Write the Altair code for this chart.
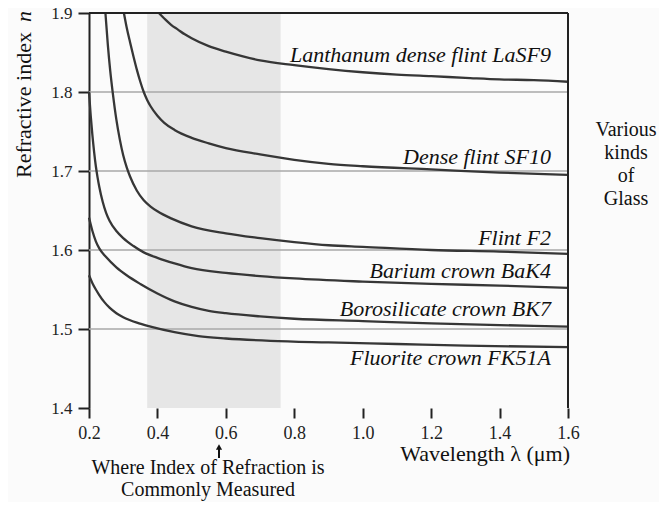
import altair as alt
import pandas as pd

# ---------------- data ----------------
glass_names = [
    "Lanthanum dense flint LaSF9",
    "Dense flint SF10",
    "Flint F2",
    "Barium crown BaK4",
    "Borosilicate crown BK7",
    "Fluorite crown FK51A",
]

lasf9_wl = [0.404, 0.42, 0.44, 0.46, 0.48, 0.50, 0.55, 0.60, 0.65, 0.70, 0.80, 0.90,
            1.00, 1.10, 1.20, 1.30, 1.40, 1.50, 1.60]
lasf9_n = [1.900, 1.893, 1.885, 1.879, 1.873, 1.868, 1.858, 1.851, 1.845, 1.840, 1.834, 1.829,
           1.825, 1.822, 1.820, 1.818, 1.816, 1.815, 1.813]

sf10_wl = [0.302, 0.31, 0.32, 0.33, 0.34, 0.35, 0.36, 0.37, 0.38, 0.40, 0.42, 0.45, 0.50,
           0.55, 0.60, 0.70, 0.80, 0.90, 1.00, 1.20, 1.40, 1.60]
sf10_n = [1.900, 1.882, 1.863, 1.845, 1.828, 1.813, 1.800, 1.790, 1.782, 1.770, 1.761, 1.752, 1.742,
          1.735, 1.729, 1.721, 1.714, 1.709, 1.706, 1.702, 1.698, 1.695]

f2_wl = [0.248, 0.255, 0.262, 0.27, 0.28, 0.29, 0.30, 0.31, 0.32, 0.34, 0.36, 0.38, 0.40,
         0.44, 0.50, 0.60, 0.70, 0.80, 0.90, 1.00, 1.20, 1.40, 1.60]
f2_n = [1.900, 1.860, 1.827, 1.797, 1.765, 1.740, 1.720, 1.705, 1.693, 1.675, 1.663, 1.655, 1.649,
        1.640, 1.630, 1.621, 1.615, 1.610, 1.606, 1.604, 1.600, 1.598, 1.595]

bak4_wl = [0.200, 0.205, 0.210, 0.215, 0.220, 0.225, 0.230, 0.240, 0.250, 0.260, 0.280, 0.300,
           0.330, 0.360, 0.400, 0.450, 0.500, 0.600, 0.700, 0.800, 1.000, 1.200, 1.400, 1.600]
bak4_n = [1.800, 1.770, 1.745, 1.724, 1.706, 1.692, 1.680, 1.661, 1.647, 1.637, 1.624, 1.615,
          1.605, 1.597, 1.590, 1.583, 1.577, 1.571, 1.567, 1.564, 1.560, 1.557, 1.555, 1.552]

bk7_wl = [0.200, 0.210, 0.220, 0.230, 0.250, 0.280, 0.310, 0.350, 0.400, 0.450, 0.500, 0.550,
          0.600, 0.700, 0.800, 1.000, 1.200, 1.400, 1.600]
bk7_n = [1.641, 1.624, 1.611, 1.602, 1.591, 1.578, 1.568, 1.557, 1.545, 1.535, 1.528, 1.523,
         1.520, 1.516, 1.513, 1.510, 1.507, 1.505, 1.503]

fk51a_wl = [0.200, 0.210, 0.220, 0.230, 0.245, 0.260, 0.280, 0.300, 0.340, 0.380, 0.450, 0.520,
            0.600, 0.730, 0.900, 1.100, 1.300, 1.600]
fk51a_n = [1.568, 1.558, 1.550, 1.543, 1.534, 1.527, 1.520, 1.515, 1.508, 1.503, 1.496, 1.491,
           1.488, 1.485, 1.483, 1.481, 1.479, 1.477]

visible_band = [0.37, 0.76]
grid_values = [1.5, 1.6, 1.7, 1.8]
x_ticks = [0.2, 0.4, 0.6, 0.8, 1.0, 1.2, 1.4, 1.6]
y_ticks = [1.4, 1.5, 1.6, 1.7, 1.8, 1.9]
measured_wl = [0.58]

# label anchor positions (data coordinates)
label_x = [1.55] * 6
label_y = [1.838, 1.709, 1.606, 1.565, 1.516, 1.455]

side_lines = ["Various", "kinds", "of", "Glass"]
bottom_lines = ["Where Index of Refraction is", "Commonly Measured"]

# ---------------- build tables ----------------
series = [
    (glass_names[0], lasf9_wl, lasf9_n),
    (glass_names[1], sf10_wl, sf10_n),
    (glass_names[2], f2_wl, f2_n),
    (glass_names[3], bak4_wl, bak4_n),
    (glass_names[4], bk7_wl, bk7_n),
    (glass_names[5], fk51a_wl, fk51a_n),
]
rows = []
for name, wl, nn in series:
    for i, (a, b) in enumerate(zip(wl, nn)):
        rows.append({"glass": name, "wl": a, "n": b, "order": i})
curves_df = pd.DataFrame(rows)

labels_df = pd.DataFrame({"label": glass_names, "lx": label_x, "ly": label_y})

W, H = 479, 395
FONT = "Liberation Serif"
DARK = "#222222"
TXT = "#111111"

xs = alt.Scale(domain=[0.2, 1.6], nice=False, zero=False)
ys = alt.Scale(domain=[1.4, 1.9], nice=False, zero=False)

x_axis = alt.Axis(values=x_ticks, format=".1f", title=None, domain=False, grid=False,
                  tickSize=10, tickColor=DARK, tickWidth=2, labelFont=FONT,
                  labelFontSize=18, labelColor=DARK, labelPadding=6, labelFlush=False)
y_axis = alt.Axis(values=y_ticks, format=".1f", title=None, domain=True, domainColor=DARK,
                  domainWidth=2, grid=False, tickSize=11, tickColor=DARK, tickWidth=2,
                  labelFont=FONT, labelFontSize=17, labelColor=DARK, labelPadding=6,
                  labelFlush=False)

band = alt.Chart(pd.DataFrame({"a": [visible_band[0]], "b": [visible_band[1]]})).mark_rect(
    color="#e6e6e6").encode(
    x=alt.X("a:Q", scale=xs, axis=x_axis),
    x2="b:Q",
    y=alt.value(0),
    y2=alt.value(H),
)

grid = alt.Chart(pd.DataFrame({"g": grid_values})).mark_rule(
    color="#a8a8a8", strokeWidth=1.5).encode(
    y=alt.Y("g:Q", scale=ys, axis=y_axis),
)

lines = alt.Chart(curves_df).mark_line(
    interpolate="monotone", color="#363636", strokeWidth=2.3).encode(
    x=alt.X("wl:Q", scale=xs),
    y=alt.Y("n:Q", scale=ys),
    detail="glass:N",
    order="order:Q",
)

top_border = alt.Chart(pd.DataFrame({"t": [1.9]})).mark_rule(
    color=DARK, strokeWidth=2).encode(y=alt.Y("t:Q", scale=ys))
right_border = alt.Chart(pd.DataFrame({"r": [1.6]})).mark_rule(
    color=DARK, strokeWidth=2).encode(x=alt.X("r:Q", scale=xs))

labels = alt.Chart(labels_df).mark_text(
    font=FONT, fontSize=22, fontStyle="italic", align="right", baseline="alphabetic",
    color=TXT).encode(
    x=alt.X("lx:Q", scale=xs),
    y=alt.Y("ly:Q", scale=ys),
    text="label:N",
)

side = alt.Chart(pd.DataFrame({"t": side_lines, "yy": [117, 140, 163, 186]})).mark_text(
    font=FONT, fontSize=20, align="center", baseline="middle", color=TXT).encode(
    x=alt.value(537),
    y=alt.Y("yy:Q", scale=None),
    text="t:N",
)

bottom = alt.Chart(pd.DataFrame({"t": bottom_lines, "xx": [119, 119], "yy": [461, 483]})).mark_text(
    font=FONT, fontSize=20, align="center", baseline="alphabetic", color=TXT).encode(
    x=alt.X("xx:Q", scale=None),
    y=alt.Y("yy:Q", scale=None),
    text="t:N",
)

# arrow pointing at the commonly used wavelength (shaft + head)
arrow_df = pd.DataFrame({"ax": measured_wl})
arrow_shaft = alt.Chart(arrow_df).mark_rule(color=TXT, strokeWidth=2).encode(
    x=alt.X("ax:Q", scale=xs), y=alt.value(434), y2=alt.value(445))
arrow_head = alt.Chart(arrow_df).mark_point(
    shape="triangle-up", filled=True, color=TXT, size=38, opacity=1).encode(
    x=alt.X("ax:Q", scale=xs), y=alt.value(434))

xtitle = alt.Chart(pd.DataFrame({"t": ["Wavelength \u03bb (\u03bcm)"]})).mark_text(
    font=FONT, fontSize=22, align="right", baseline="alphabetic", color=TXT).encode(
    x=alt.value(481), y=alt.value(448), text="t:N")

ytitle1 = alt.Chart(pd.DataFrame({"t": ["Refractive index"]})).mark_text(
    font=FONT, fontSize=22, align="right", baseline="middle", angle=270,
    color=TXT).encode(x=alt.value(-65), y=alt.value(19), text="t:N")

ytitle2 = alt.Chart(pd.DataFrame({"t": ["n"]})).mark_text(
    font=FONT, fontSize=22, fontStyle="italic", align="right", baseline="middle", angle=270,
    color=TXT).encode(x=alt.value(-65), y=alt.value(-2), text="t:N")

chart = alt.layer(
    band, grid, lines, top_border, right_border, labels, side, bottom,
    arrow_shaft, arrow_head, xtitle, ytitle1, ytitle2,
).properties(
    width=W, height=H,
    padding={"left": 81, "top": 5, "right": 91, "bottom": 94},
    autosize="none",
    background="#fbfbfb",
).configure_view(stroke=None)

chart.save("out.html", embed_options={"renderer": "svg", "actions": False})
